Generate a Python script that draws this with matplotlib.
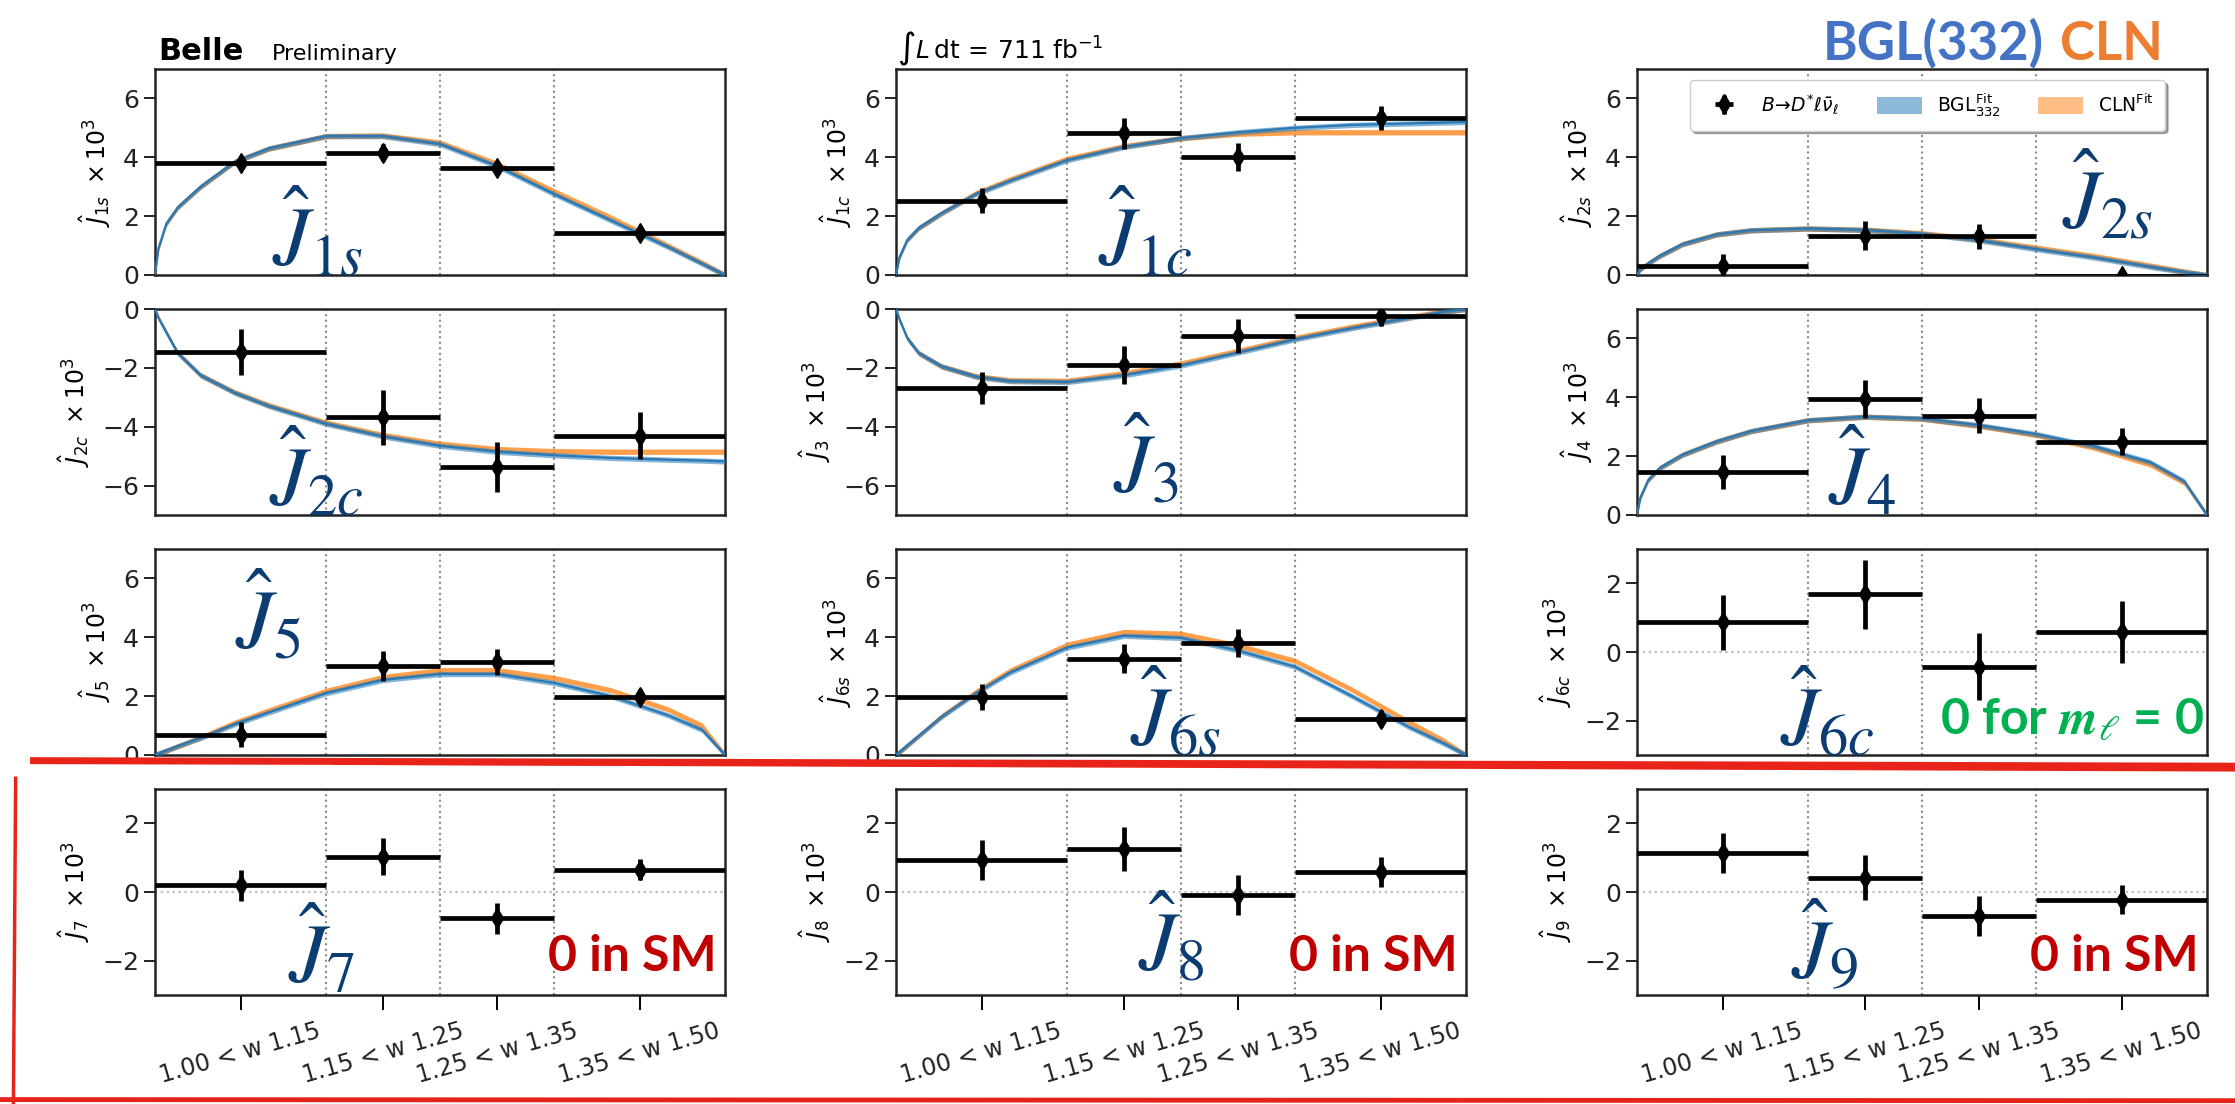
import numpy as np
import matplotlib.pyplot as plt
from matplotlib.lines import Line2D
from matplotlib.patches import Patch

# ─── shared binning ────────────────────────────────────────────────
BIN_EDGES   = [1.00, 1.15, 1.25, 1.35, 1.50]
BIN_CENTERS = [1.075, 1.20, 1.30, 1.425]
TICK_LABELS = ['1.00 < w 1.15', '1.15 < w 1.25', '1.25 < w 1.35', '1.35 < w 1.50']

W_GRID = [1.0, 1.003, 1.01, 1.02, 1.04, 1.07, 1.10, 1.15, 1.20,
          1.25, 1.30, 1.35, 1.40, 1.45, 1.48, 1.50]

# ─── measured values (x10^3) and errors per bin ─────────────────────
J1S_VAL = [3.81, 4.16, 3.65, 1.43]
J1S_ERR = [0.20, 0.28, 0.20, 0.18]
J1C_VAL = [2.53, 4.81, 4.00, 5.33]
J1C_ERR = [0.42, 0.52, 0.47, 0.40]
J2S_VAL = [0.32, 1.34, 1.31, -0.05]
J2S_ERR = [0.40, 0.48, 0.43, 0.15]
J2C_VAL = [-1.46, -3.68, -5.37, -4.30]
J2C_ERR = [0.77, 0.93, 0.85, 0.80]
J3_VAL  = [-2.69, -1.90, -0.91, -0.25]
J3_ERR  = [0.55, 0.64, 0.58, 0.32]
J4_VAL  = [1.47, 3.93, 3.37, 2.49]
J4_ERR  = [0.57, 0.65, 0.59, 0.45]
J5_VAL  = [0.69, 3.02, 3.16, 1.97]
J5_ERR  = [0.43, 0.52, 0.45, 0.28]
J6S_VAL = [1.97, 3.27, 3.81, 1.24]
J6S_ERR = [0.44, 0.50, 0.47, 0.30]
J6C_VAL = [0.86, 1.68, -0.43, 0.58]
J6C_ERR = [0.80, 1.01, 0.97, 0.90]
J7_VAL  = [0.19, 1.03, -0.77, 0.65]
J7_ERR  = [0.46, 0.53, 0.46, 0.31]
J8_VAL  = [0.94, 1.25, -0.08, 0.58]
J8_ERR  = [0.58, 0.65, 0.58, 0.43]
J9_VAL  = [1.13, 0.42, -0.69, -0.22]
J9_ERR  = [0.58, 0.65, 0.58, 0.41]

# ─── fit curves (BGL332 and CLN), read at W_GRID ───────────────────
J1S_BGL = [0, 0.9, 1.75, 2.3, 3.0, 3.85, 4.3, 4.72, 4.72, 4.45, 3.7, 2.75, 1.85, 0.95, 0.38, 0]
J1S_CLN = [0, 0.9, 1.75, 2.3, 3.0, 3.85, 4.3, 4.72, 4.74, 4.5, 3.78, 2.85, 1.95, 1.0, 0.42, 0]
J1C_BGL = [0, 0.6, 1.2, 1.6, 2.1, 2.75, 3.2, 3.9, 4.35, 4.65, 4.85, 5.0, 5.1, 5.15, 5.18, 5.2]
J1C_CLN = [0, 0.6, 1.2, 1.6, 2.1, 2.78, 3.25, 3.95, 4.38, 4.65, 4.8, 4.85, 4.85, 4.85, 4.85, 4.85]
J2S_BGL = [0, 0.2, 0.4, 0.65, 1.05, 1.38, 1.52, 1.58, 1.53, 1.4, 1.18, 0.88, 0.6, 0.28, 0.1, 0]
J2S_CLN = [0, 0.2, 0.4, 0.65, 1.05, 1.38, 1.52, 1.58, 1.54, 1.42, 1.21, 0.93, 0.65, 0.32, 0.12, 0]
J2C_BGL = [0, -0.3, -0.8, -1.5, -2.25, -2.85, -3.3, -3.9, -4.33, -4.65, -4.85, -4.97, -5.06, -5.12, -5.15, -5.18]
J2C_CLN = [0, -0.3, -0.8, -1.5, -2.25, -2.83, -3.27, -3.86, -4.28, -4.58, -4.76, -4.83, -4.85, -4.85, -4.85, -4.85]
J3_BGL  = [0, -0.35, -1.0, -1.5, -1.95, -2.3, -2.45, -2.48, -2.25, -1.92, -1.48, -1.03, -0.65, -0.3, -0.1, 0.0]
J3_CLN  = [0, -0.35, -1.0, -1.5, -1.95, -2.28, -2.42, -2.44, -2.18, -1.85, -1.42, -0.98, -0.6, -0.27, -0.08, 0.0]
J4_BGL  = [0, 0.6, 1.2, 1.6, 2.05, 2.5, 2.85, 3.22, 3.34, 3.28, 3.05, 2.75, 2.35, 1.8, 1.15, 0]
J4_CLN  = [0, 0.6, 1.2, 1.6, 2.05, 2.5, 2.85, 3.22, 3.34, 3.27, 3.03, 2.72, 2.3, 1.72, 1.1, 0]
J5_BGL  = [0, 0.05, 0.15, 0.3, 0.58, 1.05, 1.45, 2.1, 2.55, 2.75, 2.75, 2.45, 2.0, 1.35, 0.85, 0]
J5_CLN  = [0, 0.05, 0.15, 0.3, 0.6, 1.1, 1.52, 2.18, 2.65, 2.88, 2.88, 2.62, 2.2, 1.55, 1.0, 0]
J6S_BGL = [0, 0.1, 0.33, 0.65, 1.3, 2.1, 2.8, 3.65, 4.05, 3.98, 3.55, 3.0, 2.0, 0.95, 0.4, 0]
J6S_CLN = [0, 0.1, 0.33, 0.66, 1.32, 2.15, 2.87, 3.75, 4.18, 4.12, 3.72, 3.2, 2.22, 1.12, 0.5, 0]

# ─── layout (figure pixels) ────────────────────────────────────────
FIG_W, FIG_H = 2235, 1104
COL_LEFT = [155, 896, 1637]
ROW_TOP  = [69, 309, 549, 789]
AX_W, AX_H = 570, 206

NAVY = '#0b3c72'
BLUE = '#1f77b4'
ORANGE = '#ff7f0e'

plt.rcParams['font.family'] = ['DejaVu Sans']

# (row, col, sub, ylim, yticks, values, errors, bgl, cln, label x, label y, zero line)
panels = [
    (0, 0, '1s', (0, 7), [0, 2, 4, 6], J1S_VAL, J1S_ERR, J1S_BGL, J1S_CLN, 0.205, -0.03, False),
    (0, 1, '1c', (0, 7), [0, 2, 4, 6], J1C_VAL, J1C_ERR, J1C_BGL, J1C_CLN, 0.355, -0.03, False),
    (0, 2, '2s', (0, 7), [0, 2, 4, 6], J2S_VAL, J2S_ERR, J2S_BGL, J2S_CLN, 0.745, 0.15, False),
    (1, 0, '2c', (-7, 0), [0, -2, -4, -6], J2C_VAL, J2C_ERR, J2C_BGL, J2C_CLN, 0.20, -0.03, False),
    (1, 1, '3', (-7, 0), [0, -2, -4, -6], J3_VAL, J3_ERR, J3_BGL, J3_CLN, 0.38, 0.03, False),
    (1, 2, '4', (0, 7), [0, 2, 4, 6], J4_VAL, J4_ERR, J4_BGL, J4_CLN, 0.335, -0.03, False),
    (2, 0, '5', (0, 7), [0, 2, 4, 6], J5_VAL, J5_ERR, J5_BGL, J5_CLN, 0.14, 0.44, False),
    (2, 1, '6s', (0, 7), [0, 2, 4, 6], J6S_VAL, J6S_ERR, J6S_BGL, J6S_CLN, 0.41, -0.03, False),
    (2, 2, '6c', (-3, 3), [-2, 0, 2], J6C_VAL, J6C_ERR, None, None, 0.25, -0.03, True),
    (3, 0, '7', (-3, 3), [-2, 0, 2], J7_VAL, J7_ERR, None, None, 0.233, -0.02, True),
    (3, 1, '8', (-3, 3), [-2, 0, 2], J8_VAL, J8_ERR, None, None, 0.425, 0.04, True),
    (3, 2, '9', (-3, 3), [-2, 0, 2], J9_VAL, J9_ERR, None, None, 0.27, 0.0, True),
]

fig = plt.figure(figsize=(FIG_W / 100, FIG_H / 100), dpi=100)
xerr = np.diff(BIN_EDGES) / 2
axes = {}

for (r, c, sub, ylim, yticks, vals, errs, bgl, cln, lx, ly, zero) in panels:
    left = COL_LEFT[c]
    top = ROW_TOP[r]
    ax = fig.add_axes([left / FIG_W, 1 - (top + AX_H) / FIG_H, AX_W / FIG_W, AX_H / FIG_H])
    axes[(r, c)] = ax
    ax.set_xlim(1.0, 1.5)
    ax.set_ylim(*ylim)

    for e in BIN_EDGES[1:-1]:
        ax.axvline(e, color='#8a8a8a', ls=':', lw=1.5, zorder=1)
    if zero:
        ax.axhline(0, color='#bdbdbd', ls=':', lw=1.6, zorder=1)

    if bgl is not None:
        cln_a = np.array(cln)
        bgl_a = np.array(bgl)
        ax.fill_between(W_GRID, cln_a - 0.09, cln_a + 0.09, color=ORANGE, alpha=0.75, lw=0, zorder=2)
        ax.fill_between(W_GRID, bgl_a - 0.09, bgl_a + 0.09, color=BLUE, alpha=0.55, lw=0, zorder=3)
        ax.plot(W_GRID, bgl, color='#2a78b5', lw=1.6, zorder=3)

    lab = r'$B\!\rightarrow\!D^{*}\ell\bar{\nu}_{\ell}$' if (r, c) == (0, 2) else None
    ax.errorbar(BIN_CENTERS, vals, xerr=xerr, yerr=errs, fmt='d', color='k',
                ms=10, elinewidth=3.4, capsize=0, zorder=5, label=lab)

    ax.text(lx, ly, r'$\hat{J}_{%s}$' % sub, transform=ax.transAxes,
            fontsize=60, color=NAVY, math_fontfamily='stix',
            ha='left', va='bottom', zorder=6)

    ax.set_yticks(yticks)
    ax.set_ylabel(r'$\hat{J}_{%s}\ \times 10^3$' % sub, fontsize=17, labelpad=7)
    ax.tick_params(axis='y', direction='out', length=8, width=1.4,
                   labelsize=18, colors='#222222')
    if r == 3:
        ax.set_xticks(BIN_CENTERS)
        ax.set_xticklabels(TICK_LABELS, rotation=16, ha='center', fontsize=17, color='#222222')
        ax.tick_params(axis='x', direction='out', length=11, width=1.4, pad=6)
    else:
        ax.set_xticks([])
    for sp in ax.spines.values():
        sp.set_linewidth(1.8)
        sp.set_color('#222222')

# ─── annotations ───────────────────────────────────────────────────
for c in range(3):
    axes[(3, c)].text(0.985, 0.08, '0 in SM', transform=axes[(3, c)].transAxes,
                      fontsize=36, fontweight='bold', family='Lato',
                      color='#c00000', ha='right', va='bottom')

axes[(2, 2)].text(0.995, 0.06, r'0 for $\mathbfit{m}_{\ell}$ = 0',
                  transform=axes[(2, 2)].transAxes, fontsize=36, fontweight='bold',
                  family='Lato', math_fontfamily='stix', color='#00b050',
                  ha='right', va='bottom')

handles, labels = axes[(0, 2)].get_legend_handles_labels()
handles += [Patch(facecolor=BLUE, alpha=0.5), Patch(facecolor=ORANGE, alpha=0.5)]
labels += [r'BGL$^{\rm Fit}_{332}$', r'CLN$^{\rm Fit}$']
axes[(0, 2)].legend(handles, labels, loc='upper center', bbox_to_anchor=(0.51, 0.99),
                    ncol=3, fontsize=13.5, shadow=True, framealpha=1,
                    handlelength=2.4, handleheight=1.0, columnspacing=2.0, borderpad=0.6)

fig.text(158 / FIG_W, 1 - 60 / FIG_H, 'Belle', fontsize=22, fontweight='bold', va='baseline')
fig.text(272 / FIG_W, 1 - 60 / FIG_H, 'Preliminary', fontsize=16, va='baseline')
fig.text(897 / FIG_W, 1 - 58 / FIG_H, r'$\int L\,\mathrm{dt}\,=\,711\;\mathrm{fb}^{-1}$',
         fontsize=18, va='baseline')
fig.text(1823 / FIG_W, 1 - 60 / FIG_H, 'BGL(332)', fontsize=38, fontweight='bold',
         family='Lato', color='#4472c4', va='baseline')
fig.text(2060 / FIG_W, 1 - 60 / FIG_H, 'CLN', fontsize=38, fontweight='bold',
         family='Lato', color='#ed7d31', va='baseline')

# hand drawn red frame around the last row
RED = '#e8231a'
fig.add_artist(Line2D([0.015, 1.0], [0.311, 0.306], transform=fig.transFigure, color=RED, lw=5))
fig.add_artist(Line2D([0.15, 1.0], [0.309, 0.303], transform=fig.transFigure, color=RED, lw=3))
fig.add_artist(Line2D([0.007, 0.006], [0.295, 0.0], transform=fig.transFigure, color=RED, lw=2.5))
fig.add_artist(Line2D([0.0, 1.0], [0.004, 0.003], transform=fig.transFigure, color=RED, lw=3.5))

fig.savefig('out.png', dpi=100)
